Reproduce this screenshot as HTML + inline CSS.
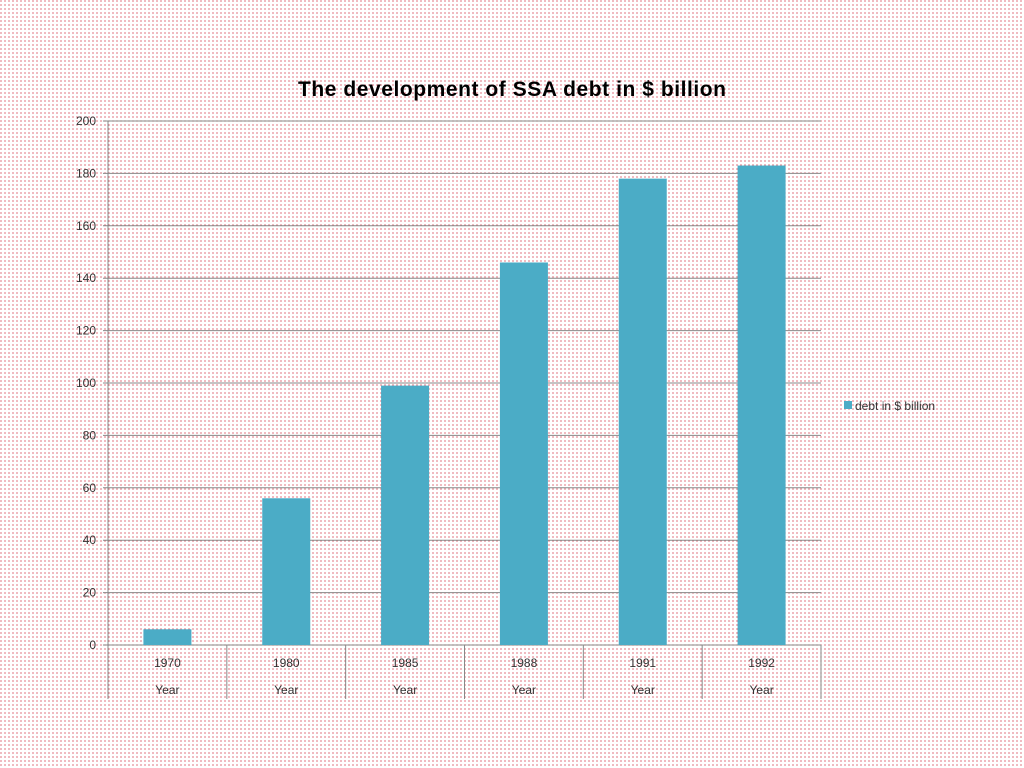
<!DOCTYPE html>
<html><head><meta charset="utf-8"><style>
html,body{margin:0;padding:0;width:1024px;height:768px;overflow:hidden;
background-color:#ffffff;
background-image:radial-gradient(circle at 1px 1px,#d8505f 0.5px,transparent 0.9px);
background-size:4px 4px;}
svg{position:absolute;left:0;top:0;font-family:"Liberation Sans",sans-serif;}
</style></head><body>
<svg id="c" width="1024" height="768">
<text x="512" y="96" text-anchor="middle" font-size="21" font-weight="bold" fill="#000" textLength="428">The development of SSA debt in $ billion</text>
<g id="grid"></g><g id="bars"></g><g id="axes"></g>
<rect x="844" y="401" width="8" height="8" fill="#4bacc6"/>
<text x="855" y="410" font-size="12" fill="#333">debt in $ billion</text>
</svg>
<script>
const categories=["1970","1980","1985","1988","1991","1992"];
const values=[6,56,99,146,178,183];
const yTicks=[0,20,40,60,80,100,120,140,160,180,200];
const ns="http://www.w3.org/2000/svg";
const L=108,R=821,T=121,B=645,yMax=200;
const y=v=>B-(v/yMax)*(B-T);
const bw=(R-L)/categories.length;
const x=i=>L+i*bw;
function mk(tag,attrs,parent,txt){const e=document.createElementNS(ns,tag);for(const k in attrs)e.setAttribute(k,attrs[k]);if(txt!==undefined)e.textContent=txt;document.getElementById(parent).appendChild(e);return e;}
yTicks.forEach(t=>{
 const g=mk('line',{x1:L-5,x2:R,y1:y(t),y2:y(t),stroke:'#888','stroke-width':1},'grid');
 
 
 const lb=mk('text',{x:L-12,y:y(t)+4,'text-anchor':'end','font-size':12,fill:'#333'},'axes',String(t));
 
 
});
categories.forEach((c,i)=>{
 const r=mk('rect',{x:x(i)+bw/2-24,y:y(values[i]),width:48,height:B-y(values[i]),fill:'#4bacc6'},'bars');
 
 
 const t1=mk('text',{x:x(i)+bw/2,y:667,'text-anchor':'middle','font-size':12,fill:'#333'},'axes',c);
 
 
 const t2=mk('text',{x:x(i)+bw/2,y:694,'text-anchor':'middle','font-size':12,fill:'#333'},'axes','Year');
 
 
 const s=mk('line',{x1:x(i+1),x2:x(i+1),y1:B,y2:699,stroke:'#888'},'axes');
 
 
});
const ax=mk('line',{x1:L,x2:L,y1:T,y2:699,stroke:'#888'},'axes');


</script>
</body></html>
